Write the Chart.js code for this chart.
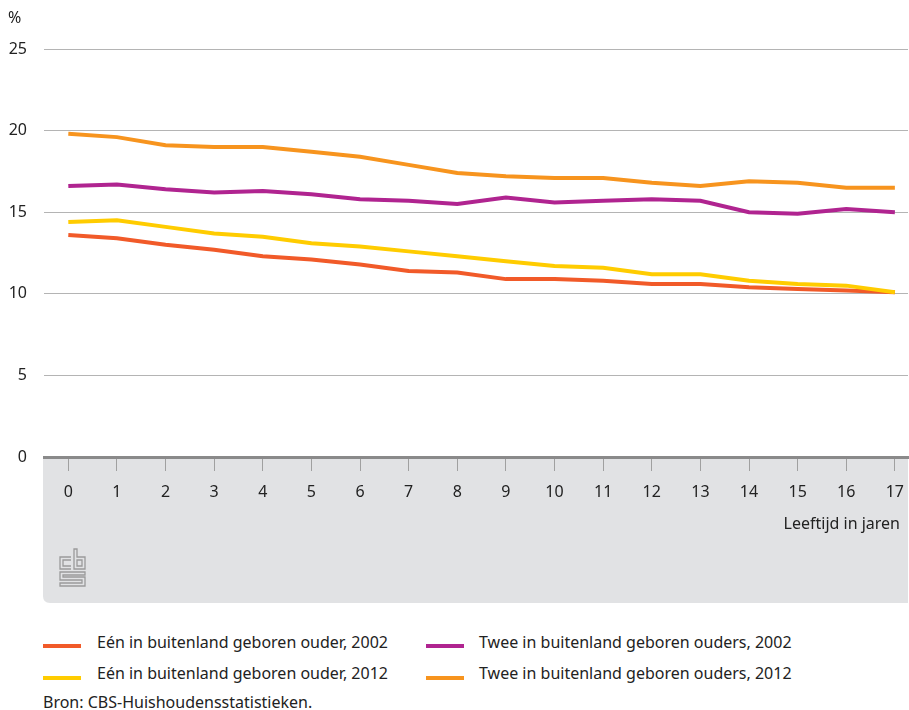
<!DOCTYPE html>
<html>
<head>
<meta charset="utf-8">
<script src="https://cdn.jsdelivr.net/npm/chart.js@4.4.0/dist/chart.umd.min.js"></script>
<style>
    body {
        margin: 0;
        background: #ffffff;
        font-family: "Noto Sans", sans-serif;
        color: #222;
    }
    #wrap {
        position: relative;
        width: 909px;
        height: 710px;
    }
    #chart-box {
        position: absolute;
        left: 0;
        top: 0;
        width: 909px;
        height: 610px;
    }
    .swatch {
        position: absolute;
        width: 38px;
        height: 4px;
    }
    .label {
        position: absolute;
        font-size: 16px;
        line-height: 20px;
        white-space: nowrap;
    }
</style>
</head>
<body>
<div id="wrap">
    <div id="chart-box"><canvas id="lineChart"></canvas></div>

    <div class="swatch" style="left:43px; top:644px; background:#f15a29;"></div>
    <div class="label" style="left:97px; top:632px;">Eén in buitenland geboren ouder, 2002</div>

    <div class="swatch" style="left:426px; top:644px; background:#b02490;"></div>
    <div class="label" style="left:479px; top:632px;">Twee in buitenland geboren ouders, 2002</div>

    <div class="swatch" style="left:43px; top:676px; background:#ffcc00;"></div>
    <div class="label" style="left:97px; top:663px;">Eén in buitenland geboren ouder, 2012</div>

    <div class="swatch" style="left:426px; top:676px; background:#f7941e;"></div>
    <div class="label" style="left:479px; top:663px;">Twee in buitenland geboren ouders, 2012</div>

    <div class="label" style="left:43px; top:692px;">Bron: CBS-Huishoudensstatistieken.</div>
</div>

<script>
const ages = [0, 1, 2, 3, 4, 5, 6, 7, 8, 9, 10, 11, 12, 13, 14, 15, 16, 17];
const yTicks = [0, 5, 10, 15, 20, 25];

const een2002 = [13.6, 13.4, 13.0, 12.7, 12.3, 12.1, 11.8, 11.4, 11.3, 10.9, 10.9, 10.8, 10.6, 10.6, 10.4, 10.3, 10.2, 10.1];
const een2012 = [14.4, 14.5, 14.1, 13.7, 13.5, 13.1, 12.9, 12.6, 12.3, 12.0, 11.7, 11.6, 11.2, 11.2, 10.8, 10.6, 10.5, 10.1];
const twee2002 = [16.6, 16.7, 16.4, 16.2, 16.3, 16.1, 15.8, 15.7, 15.5, 15.9, 15.6, 15.7, 15.8, 15.7, 15.0, 14.9, 15.2, 15.0];
const twee2012 = [19.8, 19.6, 19.1, 19.0, 19.0, 18.7, 18.4, 17.9, 17.4, 17.2, 17.1, 17.1, 16.8, 16.6, 16.9, 16.8, 16.5, 16.5];

function toPoints(values) {
    return values.map((v, i) => ({ x: ages[i], y: v }));
}

// grey panel under the x axis, % label, axis title and cbs logo
const backdrop = {
    id: "backdrop",
    beforeDraw(chart) {
        const ctx = chart.ctx;
        const area = chart.chartArea;
        const left = 43;
        const right = 908;
        const top = area.bottom;
        const bottom = 603;
        const r = 7;

        ctx.save();
        ctx.fillStyle = "#e1e2e4";
        ctx.beginPath();
        ctx.moveTo(left, top);
        ctx.lineTo(right, top);
        ctx.lineTo(right, bottom);
        ctx.lineTo(left + r, bottom);
        ctx.quadraticCurveTo(left, bottom, left, bottom - r);
        ctx.closePath();
        ctx.fill();

        ctx.fillStyle = "#222";
        ctx.font = "16px 'Noto Sans'";
        ctx.textBaseline = "middle";
        ctx.fillText("%", 8, 18);

        ctx.textAlign = "right";
        ctx.fillText("Leeftijd in jaren", 900, 524);

        // cbs logo
        ctx.strokeStyle = "#9a9a9a";
        ctx.lineWidth = 1.3;
        const lx = 60, ly = 549;
        ctx.beginPath();
        // c
        ctx.moveTo(71, ly + 8); ctx.lineTo(lx, ly + 8); ctx.lineTo(lx, ly + 20); ctx.lineTo(71, ly + 20);
        ctx.moveTo(71, ly + 11); ctx.lineTo(63, ly + 11); ctx.lineTo(63, ly + 17); ctx.lineTo(71, ly + 17);
        // b
        ctx.moveTo(74, ly); ctx.lineTo(74, ly + 20); ctx.lineTo(85, ly + 20); ctx.lineTo(85, ly + 8); ctx.lineTo(77, ly + 8); ctx.lineTo(77, ly);
        ctx.closePath();
        ctx.rect(77, ly + 11, 5, 6);
        // s
        ctx.moveTo(85, ly + 23); ctx.lineTo(lx, ly + 23); ctx.lineTo(lx, ly + 31); ctx.lineTo(82, ly + 31);
        ctx.lineTo(82, ly + 34); ctx.lineTo(lx, ly + 34); ctx.lineTo(lx, ly + 37); ctx.lineTo(85, ly + 37);
        ctx.lineTo(85, ly + 28); ctx.lineTo(63, ly + 28); ctx.lineTo(63, ly + 26); ctx.lineTo(85, ly + 26);
        ctx.closePath();
        ctx.stroke();
        ctx.restore();
    }
};

function line(label, values, color, order) {
    return {
        label: label,
        data: toPoints(values),
        borderColor: color,
        backgroundColor: color,
        borderWidth: 4,
        pointRadius: 0,
        tension: 0,
        order: order
    };
}

new Chart(document.getElementById("lineChart"), {
    type: "line",
    data: {
        datasets: [
            line("Eén in buitenland geboren ouder, 2012", een2012, "#ffcc00", 0),
            line("Eén in buitenland geboren ouder, 2002", een2002, "#f15a29", 1),
            line("Twee in buitenland geboren ouders, 2002", twee2002, "#b02490", 2),
            line("Twee in buitenland geboren ouders, 2012", twee2012, "#f7941e", 3)
        ]
    },
    options: {
        responsive: true,
        maintainAspectRatio: false,
        animation: false,
        layout: {
            padding: { top: 49, right: 1, bottom: 7, left: 0 }
        },
        plugins: {
            legend: { display: false },
            tooltip: { enabled: false }
        },
        scales: {
            x: {
                type: "linear",
                min: -0.5,
                max: 17.27,
                afterBuildTicks: axis => {
                    axis.ticks = ages.map(v => ({ value: v }));
                },
                afterFit: axis => {
                    axis.height = 146;
                    axis.paddingLeft = 0;
                    axis.paddingRight = 0;
                },
                grid: {
                    drawOnChartArea: false,
                    tickLength: 14,
                    color: "#a0a0a0",
                    lineWidth: 1
                },
                border: {
                    color: "#8a8a8a",
                    width: 3
                },
                ticks: {
                    autoSkip: false,
                    maxRotation: 0,
                    padding: 12,
                    color: "#222",
                    font: { family: "Noto Sans", size: 16 }
                }
            },
            y: {
                min: 0,
                max: 25,
                afterBuildTicks: axis => {
                    axis.ticks = yTicks.map(v => ({ value: v }));
                },
                afterFit: axis => {
                    axis.width = 44;
                },
                grid: {
                    color: "#b4b4b4",
                    lineWidth: 1,
                    drawTicks: false
                },
                border: { display: false },
                ticks: {
                    padding: 17,
                    color: "#222",
                    font: { family: "Noto Sans", size: 16 }
                }
            }
        }
    },
    plugins: [backdrop]
});
</script>
</body>
</html>
